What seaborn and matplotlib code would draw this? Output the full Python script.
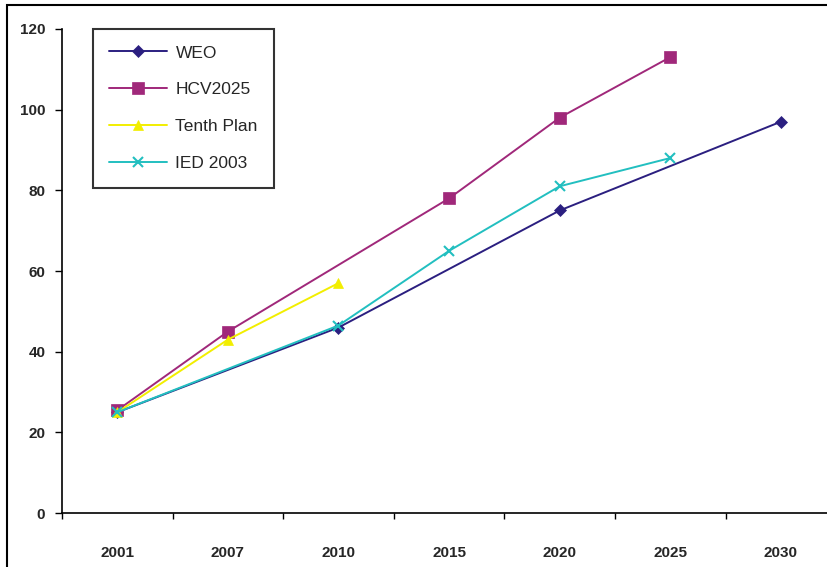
import numpy as np
import pandas as pd
import seaborn as sns
import matplotlib.pyplot as plt
from matplotlib.patches import Rectangle

years = ["2001", "2007", "2010", "2015", "2020", "2025", "2030"]

weo_years = ["2001", "2010", "2020", "2030"]
weo_vals = [25, 46, 75, 97]
hcv_years = ["2001", "2007", "2015", "2020", "2025"]
hcv_vals = [25.5, 45, 78, 98, 113]
tenth_years = ["2001", "2007", "2010"]
tenth_vals = [25, 43, 57]
ied_years = ["2001", "2010", "2015", "2020", "2025"]
ied_vals = [25, 46.5, 65, 81, 88]

series = ["WEO", "HCV2025", "Tenth Plan", "IED 2003"]
colors = ["#2b1f80", "#a0287a", "#f2ee00", "#22bfc0"]
markers = ["D", "s", "^", "x"]

rows = []
for name, ys, vs in [("WEO", weo_years, weo_vals), ("HCV2025", hcv_years, hcv_vals),
                     ("Tenth Plan", tenth_years, tenth_vals), ("IED 2003", ied_years, ied_vals)]:
    for y, v in zip(ys, vs):
        rows.append({"series": name, "pos": years.index(y), "value": v})
df = pd.DataFrame(rows)

sns.set_style("white")
plt.rcParams['font.family'] = ['Liberation Sans', 'DejaVu Sans']

fig = plt.figure(figsize=(8.27, 5.67), dpi=100)
ax = fig.add_axes([0.075, 0.095, 0.936, 0.854])

sizes = {"WEO": 6, "HCV2025": 8, "Tenth Plan": 7, "IED 2003": 7}
for name, col, mk in zip(series, colors, markers):
    sub = df[df["series"] == name]
    sns.lineplot(data=sub, x="pos", y="value", ax=ax, color=col, marker=mk,
                 markersize=sizes[name], markeredgecolor=col, markeredgewidth=1.5 if mk == "x" else 0.5,
                 linewidth=1.4, label=name)

ax.set_xlim(-0.5, 6.5)
ax.set_ylim(0, 120)
ax.set_yticks(np.arange(0, 121, 20))
ax.set_xticks(range(len(years)))
ax.set_xticklabels(years)
ax.set_xticks(np.arange(-0.5, 6.6, 1), minor=True)
ax.tick_params(axis="x", which="major", length=0, pad=24, labelsize=11)
ax.tick_params(axis="x", which="minor", length=4, width=1, direction="out", color="black")
ax.tick_params(axis="y", which="major", length=5, width=1, direction="out", pad=7, labelsize=11, color="black")
ax.xaxis.set_tick_params(bottom=True, which="both")
ax.yaxis.set_tick_params(left=True)
for lab in ax.get_xticklabels() + ax.get_yticklabels():
    lab.set_fontweight("bold")
ax.set_xlabel("")
ax.set_ylabel("")
for s in ["top", "right"]:
    ax.spines[s].set_visible(False)
for s in ["left", "bottom"]:
    ax.spines[s].set_color("black")
    ax.spines[s].set_linewidth(1.2)

leg = ax.legend(loc="upper left", bbox_to_anchor=(0.04, 1.0), borderaxespad=0, frameon=True,
                fancybox=False, edgecolor="black", fontsize=12.5, handlelength=3.3,
                handletextpad=0.5, labelspacing=1.25, borderpad=0.95)
leg.get_frame().set_linewidth(1.5)

fig.patches.append(Rectangle((0.009, -0.05), 1.1, 1.041, transform=fig.transFigure,
                             fill=False, edgecolor="black", linewidth=1.5))

fig.savefig("out.png", dpi=100)
